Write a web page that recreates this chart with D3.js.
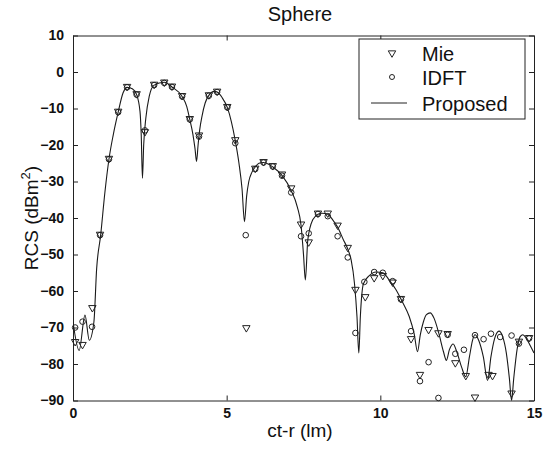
<!DOCTYPE html>
<html>
<head>
<meta charset="utf-8">
<script src="https://cdn.jsdelivr.net/npm/d3@7"></script>
<style>
  body { margin: 0; background: #fff; }
  text { font-family: "Liberation Sans", Arial, sans-serif; fill: #111; }
</style>
</head>
<body>
<svg id="chart" width="546" height="451"></svg>
<script>
// sample positions (ct-r, lm) shared by Mie and IDFT markers
const mieX = [0.07, 0.31, 0.63, 0.88, 1.17, 1.47, 1.76, 2.07, 2.34, 2.64, 2.97, 3.22, 3.55, 3.80, 4.10,
              4.42, 4.69, 5.02, 5.28, 5.64, 5.93, 6.20, 6.50, 6.80, 7.10, 7.42, 7.67, 7.97, 8.29, 8.61,
              8.94, 9.19, 9.51, 9.80, 10.08, 10.40, 10.67, 11.00, 11.29, 11.57, 11.89, 12.19, 12.44, 12.78,
              13.08, 13.52, 13.65, 14.27, 14.51, 14.84];
const mieY = [-74.1, -74.9, -64.8, -44.7, -23.9, -11.0, -4.2, -6.2, -16.6, -3.6, -3.0, -4.1, -6.7, -13.0, -17.5,
              -6.5, -5.5, -9.7, -18.8, -70.3, -26.6, -24.8, -25.9, -28.2, -32.0, -41.9, -46.8, -38.9, -38.9, -42.2,
              -48.3, -59.8, -61.8, -56.6, -56.0, -57.8, -62.3, -73.3, -83.1, -70.8, -71.7, -71.9, -79.9, -83.4,
              -89.3, -83.1, -83.4, -88.2, -74.0, -73.0];

const idftX = [0.07, 0.31, 0.62, 0.88, 1.17, 1.47, 1.76, 2.07, 2.34, 2.64, 2.97, 3.22, 3.55, 3.80, 4.10,
               4.42, 4.69, 5.02, 5.28, 5.62, 5.93, 6.20, 6.50, 6.80, 7.10, 7.42, 7.67, 7.97, 8.29, 8.61,
               8.94, 9.19, 9.48, 9.80, 10.08, 10.40, 10.67, 11.00, 11.29, 11.57, 11.89, 12.19, 12.44, 12.72,
               13.08, 13.36, 13.60, 13.90, 14.27, 14.51, 14.84];
const idftY = [-70.0, -68.4, -69.8, -44.7, -23.9, -11.0, -4.2, -6.2, -16.0, -3.6, -3.0, -4.1, -6.7, -13.0, -17.7,
               -6.5, -5.5, -9.7, -19.5, -44.7, -26.6, -24.8, -25.9, -28.4, -33.0, -45.0, -44.2, -38.9, -39.5, -45.0,
               -50.8, -71.5, -57.5, -54.8, -55.0, -57.3, -62.3, -71.0, -84.7, -79.5, -89.3, -72.0, -77.2, -76.1,
               -72.1, -73.2, -71.7, -72.6, -72.2, -74.4, -73.0];

// proposed method curve
const propX = [0.00, 0.20, 0.39, 0.53, 0.68, 0.77, 0.90, 1.04, 1.17, 1.31, 1.47, 1.63, 1.76, 1.93, 2.07,
               2.18, 2.22, 2.26, 2.30, 2.37, 2.48, 2.64, 2.97, 3.22, 3.55, 3.70, 3.80, 3.90, 3.97, 4.02,
               4.07, 4.12, 4.20, 4.30, 4.42, 4.60, 4.69, 4.85, 5.02, 5.15, 5.28, 5.40, 5.50, 5.58, 5.65,
               5.72, 5.82, 5.93, 6.05, 6.20, 6.35, 6.50, 6.80, 7.10, 7.30, 7.42, 7.50, 7.56, 7.64, 7.80,
               7.97, 8.10, 8.29, 8.45, 8.61, 8.80, 8.94, 9.05, 9.16, 9.24, 9.30, 9.35, 9.45, 9.64, 9.86,
               10.08, 10.29, 10.50, 10.72, 10.94, 11.10, 11.21, 11.30, 11.40, 11.50, 11.62, 11.75, 11.90, 12.05,
               12.15, 12.25, 12.37, 12.50, 12.65, 12.78, 12.90, 13.00, 13.08, 13.20, 13.35, 13.49, 13.60, 13.72,
               13.86, 13.98, 14.10, 14.20, 14.27, 14.34, 14.45, 14.55, 14.64, 14.75, 14.88, 15.00];
const propY = [-68.5, -76.3, -66.6, -73.5, -68.5, -53.8, -44.7, -32.8, -23.9, -17.2, -11.0, -5.7, -4.2, -4.6, -6.2,
               -10.8, -17.2, -29.1, -20.0, -12.6, -6.7, -3.6, -2.8, -4.1, -6.7, -9.4, -13.0, -17.0, -21.0, -24.5,
               -20.0, -16.0, -12.0, -8.5, -6.4, -5.3, -5.5, -7.0, -9.7, -13.5, -18.8, -25.0, -32.0, -41.0, -34.0,
               -30.0, -27.5, -26.0, -25.0, -24.8, -25.2, -26.0, -28.3, -32.5, -37.0, -42.0, -50.0, -57.0, -46.0, -40.5,
               -39.0, -38.7, -39.0, -40.5, -42.5, -46.0, -48.5, -51.5, -58.0, -67.0, -77.0, -67.0, -58.0, -55.8, -54.8,
               -55.0, -57.0, -59.5, -63.0, -67.0, -71.7, -76.6, -72.0, -68.5, -66.5, -66.0, -67.5, -71.5, -76.5,
               -79.0, -76.0, -74.5, -77.0, -81.0, -83.5, -78.0, -73.5, -72.0, -73.5, -78.0, -84.5, -78.0, -73.0,
               -71.0, -72.5, -77.0, -84.0, -90.0, -84.0, -76.0, -72.5, -72.0, -73.0, -75.0, -77.0];

const xTicks = [0, 5, 10, 15];
const yTicks = [10, 0, -10, -20, -30, -40, -50, -60, -70, -80, -90];
const legendItems = ["Mie", "IDFT", "Proposed"];

const svg = d3.select("#chart");
const margin = {top: 35.5, right: 12, bottom: 50.5, left: 73};
const W = 546, H = 451;
const iw = W - margin.left - margin.right, ih = H - margin.top - margin.bottom;

const x = d3.scaleLinear().domain([0, 15]).range([0, iw]);
const y = d3.scaleLinear().domain([-90, 10]).range([ih, 0]);

const g = svg.append("g").attr("transform", "translate(" + margin.left + "," + margin.top + ")");

g.append("defs").append("clipPath").attr("id", "clip")
  .append("rect").attr("width", iw).attr("height", ih + 1);

// axes, matlab-like: ticks inward, box around
const tickLen = 5;
g.append("g").attr("transform", "translate(0," + ih + ")")
  .call(d3.axisBottom(x).tickValues(xTicks).tickSizeInner(-tickLen).tickSizeOuter(0).tickPadding(8));
g.append("g").call(d3.axisTop(x).tickValues(xTicks).tickSizeInner(-tickLen).tickSizeOuter(0).tickFormat(""));
g.append("g")
  .call(d3.axisLeft(y).tickValues(yTicks).tickSizeInner(-tickLen).tickSizeOuter(0).tickPadding(9));
g.append("g").attr("transform", "translate(" + iw + ",0)")
  .call(d3.axisRight(y).tickValues(yTicks).tickSizeInner(-tickLen).tickSizeOuter(0).tickFormat(""));

g.selectAll(".domain").attr("stroke", "#222");
g.selectAll(".tick line").attr("stroke", "#222");
g.selectAll(".tick text")
  .style("font-family", "'Liberation Sans', Arial, sans-serif")
  .style("font-size", "14px").style("font-weight", "bold").attr("fill", "#111");

// curve
const line = d3.line().x((d, i) => x(propX[i])).y(d => y(d)).curve(d3.curveMonotoneX);
g.append("path")
  .datum(propY)
  .attr("clip-path", "url(#clip)")
  .attr("fill", "none")
  .attr("stroke", "#1a1a1a")
  .attr("stroke-width", 1.1)
  .attr("d", line);

// markers
const tri = d3.symbol().type(d3.symbolTriangle).size(24);
g.selectAll(".mie")
  .data(mieY)
  .enter().append("path")
  .attr("class", "mie")
  .attr("d", tri)
  .attr("transform", (d, i) => "translate(" + x(mieX[i]) + "," + (y(d) - 0.8) + ") rotate(180)")
  .attr("fill", "none").attr("stroke", "#222").attr("stroke-width", 1);

g.selectAll(".idft")
  .data(idftY)
  .enter().append("circle")
  .attr("class", "idft")
  .attr("cx", (d, i) => x(idftX[i]))
  .attr("cy", d => y(d))
  .attr("r", 2.8)
  .attr("fill", "none").attr("stroke", "#222").attr("stroke-width", 1);

// title and labels
svg.append("text").attr("x", 300).attr("y", 21).attr("text-anchor", "middle")
  .style("font-size", "20px").text("Sphere");
svg.append("text").attr("x", 300).attr("y", 437).attr("text-anchor", "middle")
  .style("font-size", "19px").text("ct-r (lm)");
const yl = svg.append("text")
  .attr("transform", "translate(38," + (margin.top + ih / 2) + ") rotate(-90)")
  .attr("text-anchor", "middle")
  .style("font-size", "19px");
yl.append("tspan").text("RCS (dBm");
yl.append("tspan").attr("dy", -8).style("font-size", "13px").text("2");
yl.append("tspan").attr("dy", 8).text(")");

// legend
const lg = svg.append("g").attr("transform", "translate(359,39)");
lg.append("rect").attr("width", 166).attr("height", 80)
  .attr("fill", "#fff").attr("stroke", "#222").attr("stroke-width", 1);
const rows = [14, 38, 64];
lg.selectAll(".lt").data(legendItems).enter().append("text")
  .attr("x", 63).attr("y", (d, i) => rows[i] + 7.5)
  .style("font-size", "20px").text(d => d);
lg.append("path").attr("d", tri)
  .attr("transform", "translate(33," + rows[0] + ") rotate(180)")
  .attr("fill", "none").attr("stroke", "#222");
lg.append("circle").attr("cx", 33).attr("cy", rows[1]).attr("r", 2.5)
  .attr("fill", "none").attr("stroke", "#222");
lg.append("line").attr("x1", 12).attr("x2", 48).attr("y1", rows[2]).attr("y2", rows[2])
  .attr("stroke", "#222");
</script>
</body>
</html>
